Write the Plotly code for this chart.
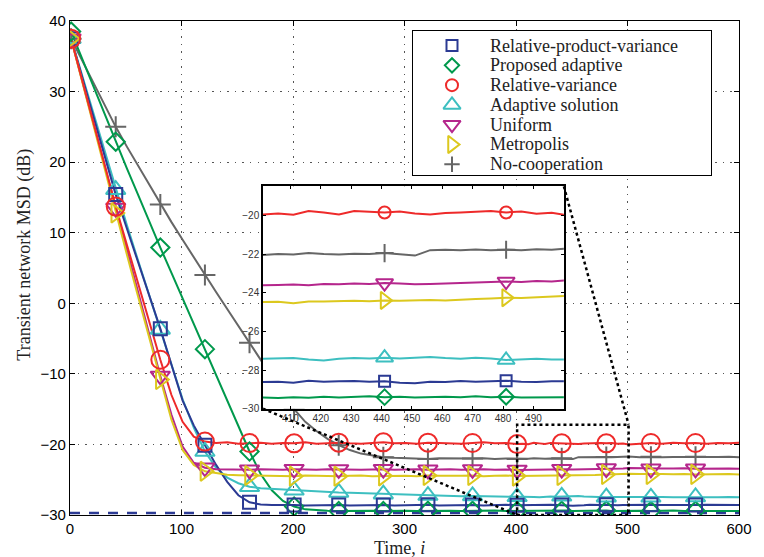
import plotly.graph_objects as go

# ---------------- data ----------------
time_idx = [1, 11, 21, 31, 41, 51, 61, 71, 81, 91, 101, 111, 121, 131, 141, 151, 161, 171, 181, 191,
            201, 211, 221, 231, 241, 251, 261, 271, 281, 291, 301, 311, 321, 331, 341, 351, 361, 371, 381, 391,
            401, 406, 411, 416, 421, 426, 431, 436, 441, 446, 451, 456, 461, 466, 471, 476, 481, 486, 491, 496,
            501, 511, 521, 531, 541, 551, 561, 571, 581, 591, 600]

marker_idx = [1, 41, 81, 121, 161, 201, 241, 281, 321, 361, 401, 441, 481, 521, 561]

msd_rel_prod_var = [37.5, 32.0, 26.5, 20.9, 15.4, 10.6, 5.9, 1.1, -3.6, -8.7, -13.8, -17.3, -20.1, -22.9, -25.3, -27.2, -28.2, -28.5, -28.6, -28.55,
                    -28.6, -28.65, -28.6, -28.55, -28.6, -28.65, -28.6, -28.55, -28.6, -28.65, -28.6, -28.6, -28.55, -28.65, -28.6, -28.55, -28.6, -28.65, -28.6, -28.55,
                    -28.62, -28.6, -28.65, -28.55, -28.6, -28.58, -28.56, -28.6, -28.58, -28.65, -28.68, -28.6, -28.62, -28.56, -28.6, -28.58, -28.55, -28.6, -28.62, -28.58,
                    -28.56, -28.6, -28.55, -28.6, -28.62, -28.58, -28.6, -28.55, -28.6, -28.62, -28.6]

msd_proposed = [38.5, 34.6, 30.7, 26.8, 22.9, 19.1, 15.4, 11.6, 7.9, 4.3, 0.7, -2.9, -6.5, -10.1, -13.8, -17.4, -21.0, -24.2, -26.5, -28.0,
                -28.8, -29.2, -29.35, -29.4, -29.45, -29.4, -29.35, -29.4, -29.45, -29.4, -29.4, -29.45, -29.4, -29.35, -29.4, -29.45, -29.4, -29.4, -29.35, -29.45,
                -29.42, -29.45, -29.4, -29.43, -29.38, -29.42, -29.4, -29.36, -29.4, -29.38, -29.42, -29.4, -29.38, -29.4, -29.36, -29.4, -29.38, -29.42, -29.4, -29.38,
                -29.4, -29.4, -29.45, -29.4, -29.38, -29.42, -29.4, -29.45, -29.4, -29.38, -29.42]

msd_rel_var = [37.5, 31.5, 25.6, 19.6, 13.7, 8.3, 2.9, -2.6, -8.0, -13.0, -16.8, -18.9, -19.6, -19.8, -19.7, -19.9, -19.8, -19.75, -19.9, -19.8,
               -19.85, -19.7, -19.9, -19.8, -19.75, -19.85, -19.9, -19.8, -19.7, -19.85, -19.8, -19.9, -19.75, -19.8, -19.85, -19.9, -19.8, -19.7, -19.85, -19.8,
               -19.95, -19.9, -19.97, -19.78, -19.85, -19.95, -19.78, -19.82, -19.85, -19.8, -19.9, -19.95, -19.88, -19.85, -19.8, -19.78, -19.85, -19.8, -19.92, -19.86,
               -20.0, -19.85, -19.8, -19.9, -19.75, -19.85, -19.8, -19.9, -19.8, -19.85, -19.75]

msd_adaptive = [37.5, 32.2, 26.8, 21.4, 16.1, 11.1, 6.1, 1.2, -3.7, -8.8, -13.6, -17.6, -21.0, -23.3, -24.7, -25.5, -26.0, -26.2, -26.3, -26.4,
                -26.5, -26.55, -26.6, -26.7, -26.8, -26.85, -26.9, -27.0, -27.05, -27.1, -27.15, -27.2, -27.25, -27.3, -27.3, -27.35, -27.3, -27.35, -27.4, -27.35,
                -27.42, -27.4, -27.38, -27.45, -27.5, -27.42, -27.38, -27.4, -27.36, -27.4, -27.35, -27.32, -27.38, -27.42, -27.36, -27.4, -27.48, -27.45, -27.42, -27.46,
                -27.44, -27.45, -27.5, -27.45, -27.48, -27.5, -27.45, -27.5, -27.48, -27.45, -27.5]

msd_uniform = [37.5, 31.5, 25.5, 19.5, 13.5, 7.5, 1.6, -4.3, -10.3, -15.8, -20.3, -22.6, -23.3, -23.5, -23.55, -23.5, -23.6, -23.5, -23.55, -23.6,
               -23.5, -23.55, -23.6, -23.5, -23.55, -23.5, -23.6, -23.55, -23.5, -23.6, -23.55, -23.5, -23.6, -23.55, -23.5, -23.6, -23.55, -23.5, -23.6, -23.55,
               -23.62, -23.6, -23.58, -23.62, -23.55, -23.56, -23.52, -23.55, -23.5, -23.52, -23.56, -23.55, -23.52, -23.5, -23.48, -23.45, -23.42, -23.45, -23.4, -23.42,
               -23.35, -23.4, -23.45, -23.4, -23.42, -23.38, -23.45, -23.4, -23.42, -23.4, -23.45]

msd_metropolis = [37.5, 31.3, 25.1, 18.9, 12.8, 6.9, 1.0, -4.9, -10.8, -16.5, -20.8, -22.9, -23.8, -24.1, -24.3, -24.35, -24.4, -24.45, -24.4, -24.45,
                  -24.5, -24.4, -24.45, -24.4, -24.5, -24.45, -24.4, -24.5, -24.45, -24.4, -24.45, -24.5, -24.4, -24.45, -24.5, -24.45, -24.4, -24.5, -24.45, -24.4,
                  -24.48, -24.47, -24.55, -24.46, -24.45, -24.43, -24.42, -24.44, -24.4, -24.42, -24.4, -24.38, -24.4, -24.35, -24.33, -24.3, -24.26, -24.28, -24.25, -24.2,
                  -24.16, -24.2, -24.25, -24.2, -24.22, -24.18, -24.25, -24.2, -24.22, -24.2, -24.25]

msd_no_coop = [37.5, 34.4, 31.3, 28.1, 25.0, 22.2, 19.5, 16.8, 14.0, 11.5, 9.0, 6.5, 4.0, 1.6, -0.8, -3.2, -5.6, -8.0, -10.4, -12.8,
               -15.0, -16.8, -18.1, -19.2, -20.1, -20.8, -21.3, -21.6, -21.8, -21.9, -21.95, -22.0, -22.05, -21.95, -22.0, -22.05, -22.0, -21.95, -22.05, -22.0,
               -22.05, -22.0, -22.02, -21.95, -22.0, -22.03, -21.98, -22.0, -21.95, -22.03, -22.08, -21.8, -21.78, -21.8, -21.76, -21.8, -21.78, -21.8, -21.75, -21.78,
               -21.72, -21.8, -21.75, -21.8, -21.78, -21.8, -21.75, -21.8, -21.78, -21.75, -21.8]

theory_level = -29.7  # dashed reference level (dB)

series_names = ["Relative-product-variance", "Proposed adaptive", "Relative-variance",
                "Adaptive solution", "Uniform", "Metropolis", "No-cooperation"]
series_values = [msd_rel_prod_var, msd_proposed, msd_rel_var, msd_adaptive,
                 msd_uniform, msd_metropolis, msd_no_coop]

x_ticks = [0, 100, 200, 300, 400, 500, 600]
y_ticks = [-30, -20, -10, 0, 10, 20, 30, 40]
inset_x_ticks = [410, 420, 430, 440, 450, 460, 470, 480, 490]
inset_y_ticks = [-30, -28, -26, -24, -22, -20]

# ---------------- styles ----------------
colors = ["#2B3A93", "#00994C", "#EE2A2A", "#3DBFC0", "#B5268C", "#DCC81E", "#666666"]
symbols = ["square-open", "diamond-open", "circle-open", "triangle-up-open",
           "triangle-down-open", "triangle-right-open", "cross-thin-open"]
main_sizes = [13, 14, 18, 17, 17, 17, 15]
inset_sizes = [11, 12, 12, 15, 15, 15, 13]
legend_sizes = [11, 11, 12, 15, 15, 15, 11]

X_RANGE = [0, 600]
Y_RANGE = [-30, 40]
INSET_X_RANGE = [401, 500]
INSET_Y_RANGE = [-30, -18.5]
INSET_DOM_X = [0.2885, 0.7382]
INSET_DOM_Y = [0.2151, 0.6653]
LEG_DOM_X = [0.5133, 0.9586]
LEG_DOM_Y = [0.6873, 0.9801]
LEG_W, LEG_H = 301, 147

serif = "Liberation Serif"
sans = "Liberation Sans"

fig = go.Figure()

# dashed theoretical line
fig.add_trace(go.Scatter(x=X_RANGE, y=[theory_level, theory_level], mode="lines",
                         line=dict(color=colors[0], width=2.5, dash="10px,9px"),
                         showlegend=False, hoverinfo="skip"))

order = [6, 1, 3, 0, 4, 5, 2]
for k in order:
    vals = series_values[k]
    fig.add_trace(go.Scatter(x=time_idx, y=vals, mode="lines",
                             line=dict(color=colors[k], width=2), showlegend=False))
for k in order:
    vals = series_values[k]
    mx = [t for t in time_idx if t in marker_idx]
    my = [v for t, v in zip(time_idx, vals) if t in marker_idx]
    fig.add_trace(go.Scatter(x=mx, y=my, mode="markers", showlegend=False,
                             marker=dict(symbol=symbols[k], size=main_sizes[k], color=colors[k],
                                         line=dict(color=colors[k], width=2))))

# inset traces
for k in order:
    vals = series_values[k]
    fig.add_trace(go.Scatter(x=time_idx, y=vals, mode="lines", xaxis="x2", yaxis="y2",
                             line=dict(color=colors[k], width=2), showlegend=False))
for k in order:
    vals = series_values[k]
    mx = [t for t in time_idx if t in marker_idx and INSET_X_RANGE[0] + 5 < t < INSET_X_RANGE[1]]
    my = [v for t, v in zip(time_idx, vals) if t in mx]
    fig.add_trace(go.Scatter(x=mx, y=my, mode="markers", xaxis="x2", yaxis="y2", showlegend=False,
                             marker=dict(symbol=symbols[k], size=inset_sizes[k], color=colors[k],
                                         line=dict(color=colors[k], width=2))))

# manual legend in its own overlay axes
annotations = []
for k, name in enumerate(series_names):
    ry = -(15.0 + 20.1 * k)
    fig.add_trace(go.Scatter(x=[39], y=[ry], mode="markers", xaxis="x3", yaxis="y3",
                             showlegend=False, hoverinfo="skip",
                             marker=dict(symbol=symbols[k], size=legend_sizes[k], color=colors[k],
                                         line=dict(color=colors[k], width=2))))
    annotations.append(dict(x=75, y=ry, xref="x3", yref="y3", text=name, showarrow=False,
                            xanchor="left", yanchor="middle",
                            font=dict(family=serif, size=18, color="#222")))

# axis titles
annotations.append(dict(x=(24 - 70) / 676, y=0.528, xref="paper", yref="paper",
                        text="Transient network MSD (dB)", textangle=-90, showarrow=False,
                        xanchor="center", yanchor="middle",
                        font=dict(family=serif, size=18, color="#222")))
annotations.append(dict(x=0.492, y=-0.067, xref="paper", yref="paper",
                        text="Time, <i>i</i>", showarrow=False,
                        xanchor="center", yanchor="middle",
                        font=dict(family=serif, size=18, color="#222")))

# zoom rectangle and connectors (main data coordinates)
def main_x(frac):
    return X_RANGE[0] + frac * (X_RANGE[1] - X_RANGE[0])

def main_y(frac):
    return Y_RANGE[0] + frac * (Y_RANGE[1] - Y_RANGE[0])

zoom_top = -17.2
dot_line = dict(color="black", width=2.5, dash="dot")
shapes = [
    dict(type="rect", xref="x", yref="y", x0=INSET_X_RANGE[0], x1=INSET_X_RANGE[1] + 1,
         y0=Y_RANGE[0], y1=zoom_top, line=dot_line, layer="above"),
    dict(type="line", xref="x", yref="y", x0=main_x(INSET_DOM_X[0]), y0=main_y(INSET_DOM_Y[0]),
         x1=INSET_X_RANGE[0], y1=Y_RANGE[0], line=dot_line, layer="above"),
    dict(type="line", xref="x", yref="y", x0=main_x(INSET_DOM_X[1]), y0=main_y(INSET_DOM_Y[1]),
         x1=INSET_X_RANGE[1] + 1, y1=zoom_top, line=dot_line, layer="above"),
]

axis_common = dict(showline=True, linecolor="black", linewidth=1.2, mirror="ticks",
                   ticks="inside", ticklen=5, tickcolor="black", zeroline=False)

fig.update_layout(
    width=764, height=557,
    margin=dict(l=70, r=18, t=13, b=42),
    paper_bgcolor="white", plot_bgcolor="white",
    showlegend=False,
    xaxis=dict(range=X_RANGE, tickvals=x_ticks, domain=[0, 1],
               showgrid=True, gridcolor="#555", gridwidth=1, griddash="1.5px,6px",
               tickfont=dict(family=sans, size=15, color="black"), **axis_common),
    yaxis=dict(range=Y_RANGE, tickvals=y_ticks, domain=[0, 1],
               showgrid=True, gridcolor="#555", gridwidth=1, griddash="1.5px,6px",
               tickfont=dict(family=sans, size=15, color="black"), **axis_common),
    xaxis2=dict(range=INSET_X_RANGE, tickvals=inset_x_ticks, domain=INSET_DOM_X, anchor="y2",
                showgrid=False, showline=True, linecolor="black", linewidth=1.5, mirror="ticks",
                ticks="inside", ticklen=3, tickcolor="black", zeroline=False,
                tickfont=dict(family=sans, size=10, color="#333")),
    yaxis2=dict(range=INSET_Y_RANGE, tickvals=inset_y_ticks, domain=INSET_DOM_Y, anchor="x2",
                showgrid=False, showline=True, linecolor="black", linewidth=1.5, mirror="ticks",
                ticks="inside", ticklen=3, tickcolor="black", zeroline=False,
                tickfont=dict(family=sans, size=10, color="#333")),
    xaxis3=dict(range=[0, LEG_W], domain=LEG_DOM_X, anchor="y3", showgrid=False,
                showticklabels=False, ticks="", zeroline=False, showline=True,
                linecolor="black", linewidth=1.2, mirror=True, fixedrange=True),
    yaxis3=dict(range=[-LEG_H, 0], domain=LEG_DOM_Y, anchor="x3", showgrid=False,
                showticklabels=False, ticks="", zeroline=False, showline=True,
                linecolor="black", linewidth=1.2, mirror=True, fixedrange=True),
    annotations=annotations,
    shapes=shapes,
)

fig.write_html("out.html")
